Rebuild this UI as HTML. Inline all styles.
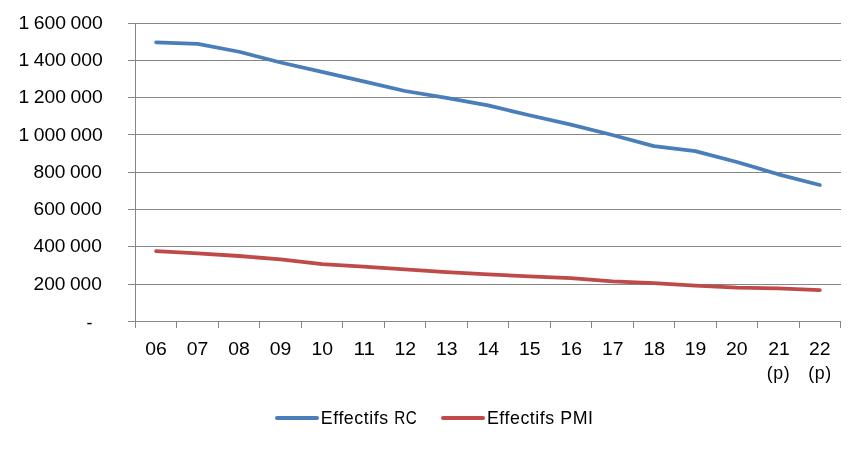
<!DOCTYPE html>
<html lang="fr"><head><meta charset="utf-8"><title>Effectifs RC / PMI</title>
<style>
html,body{margin:0;padding:0;background:#fff;}
body{width:863px;height:449px;overflow:hidden;}
svg{display:block;}
text{font-family:"Liberation Sans",sans-serif;font-size:17.8px;fill:#000;}
.y{text-anchor:end;word-spacing:-0.8px;}
.x{text-anchor:middle;}
.p{text-anchor:middle;letter-spacing:0.6px;}
.l{letter-spacing:0.55px;}
</style></head><body>
<svg width="863" height="449" viewBox="0 0 863 449">
<rect width="863" height="449" fill="#fff"/>

<g fill="#868686" shape-rendering="crispEdges">
<rect x="128" y="23" width="713" height="1"/>
<rect x="128" y="60" width="713" height="1"/>
<rect x="128" y="97" width="713" height="1"/>
<rect x="128" y="134" width="713" height="1"/>
<rect x="128" y="172" width="713" height="1"/>
<rect x="128" y="209" width="713" height="1"/>
<rect x="128" y="246" width="713" height="1"/>
<rect x="128" y="284" width="713" height="1"/>
<rect x="128" y="321" width="713" height="1"/>
<rect x="135" y="23" width="1" height="305"/>
<rect x="176" y="321" width="1" height="7"/>
<rect x="218" y="321" width="1" height="7"/>
<rect x="259" y="321" width="1" height="7"/>
<rect x="301" y="321" width="1" height="7"/>
<rect x="342" y="321" width="1" height="7"/>
<rect x="384" y="321" width="1" height="7"/>
<rect x="425" y="321" width="1" height="7"/>
<rect x="467" y="321" width="1" height="7"/>
<rect x="508" y="321" width="1" height="7"/>
<rect x="550" y="321" width="1" height="7"/>
<rect x="591" y="321" width="1" height="7"/>
<rect x="633" y="321" width="1" height="7"/>
<rect x="674" y="321" width="1" height="7"/>
<rect x="716" y="321" width="1" height="7"/>
<rect x="757" y="321" width="1" height="7"/>
<rect x="799" y="321" width="1" height="7"/>
<rect x="840" y="321" width="1" height="7"/>
</g>
<polyline points="156.1,42.30 197.6,43.90 239.1,51.75 280.6,62.50 322.0,71.80 363.5,81.40 405.0,91.00 446.5,97.90 488.0,105.45 529.4,115.25 570.9,124.60 612.4,135.00 653.9,146.10 695.3,151.10 736.8,162.00 778.3,174.30 819.8,185.00" fill="none" stroke="#4A7EBB" stroke-width="3.8" stroke-linecap="round" stroke-linejoin="round"/>
<polyline points="156.1,251.10 197.6,253.45 239.1,256.00 280.6,259.40 322.0,264.15 363.5,266.65 405.0,269.30 446.5,272.10 488.0,274.30 529.4,276.40 570.9,278.10 612.4,281.40 653.9,283.20 695.3,285.60 736.8,287.55 778.3,288.45 819.8,290.10" fill="none" stroke="#BE4B48" stroke-width="3.8" stroke-linecap="round" stroke-linejoin="round"/>
<text class="y" x="102.9" y="28.8" textLength="84.4" lengthAdjust="spacingAndGlyphs">1 600 000</text>
<text class="y" x="102.9" y="66.1" textLength="84.4" lengthAdjust="spacingAndGlyphs">1 400 000</text>
<text class="y" x="102.9" y="103.3" textLength="84.4" lengthAdjust="spacingAndGlyphs">1 200 000</text>
<text class="y" x="102.9" y="140.6" textLength="84.4" lengthAdjust="spacingAndGlyphs">1 000 000</text>
<text class="y" x="101.9" y="177.9" textLength="68.3" lengthAdjust="spacingAndGlyphs">800 000</text>
<text class="y" x="101.9" y="215.2" textLength="68.3" lengthAdjust="spacingAndGlyphs">600 000</text>
<text class="y" x="101.9" y="252.4" textLength="68.3" lengthAdjust="spacingAndGlyphs">400 000</text>
<text class="y" x="101.9" y="289.7" textLength="68.3" lengthAdjust="spacingAndGlyphs">200 000</text>
<text x="86.5" y="328.5">-</text>
<text class="x" x="156.1" y="354.7" textLength="21.6" lengthAdjust="spacingAndGlyphs">06</text>
<text class="x" x="197.6" y="354.7" textLength="21.6" lengthAdjust="spacingAndGlyphs">07</text>
<text class="x" x="239.1" y="354.7" textLength="21.6" lengthAdjust="spacingAndGlyphs">08</text>
<text class="x" x="280.6" y="354.7" textLength="21.6" lengthAdjust="spacingAndGlyphs">09</text>
<text class="x" x="322.3" y="354.7" textLength="21.6" lengthAdjust="spacingAndGlyphs">10</text>
<text class="x" x="364.2" y="354.7" textLength="21.6" lengthAdjust="spacingAndGlyphs">11</text>
<text class="x" x="405.3" y="354.7" textLength="21.6" lengthAdjust="spacingAndGlyphs">12</text>
<text class="x" x="446.8" y="354.7" textLength="21.6" lengthAdjust="spacingAndGlyphs">13</text>
<text class="x" x="488.3" y="354.7" textLength="21.6" lengthAdjust="spacingAndGlyphs">14</text>
<text class="x" x="529.7" y="354.7" textLength="21.6" lengthAdjust="spacingAndGlyphs">15</text>
<text class="x" x="571.2" y="354.7" textLength="21.6" lengthAdjust="spacingAndGlyphs">16</text>
<text class="x" x="612.7" y="354.7" textLength="21.6" lengthAdjust="spacingAndGlyphs">17</text>
<text class="x" x="654.2" y="354.7" textLength="21.6" lengthAdjust="spacingAndGlyphs">18</text>
<text class="x" x="695.6" y="354.7" textLength="21.6" lengthAdjust="spacingAndGlyphs">19</text>
<text class="x" x="736.8" y="354.7" textLength="21.6" lengthAdjust="spacingAndGlyphs">20</text>
<text class="x" x="779.0" y="354.7" textLength="21.6" lengthAdjust="spacingAndGlyphs">21</text>
<text class="x" x="819.8" y="354.7" textLength="21.6" lengthAdjust="spacingAndGlyphs">22</text>
<text class="p" x="778.6" y="379.3">(p)</text>
<text class="p" x="820.1" y="379.3">(p)</text>
<line x1="277" y1="418" x2="317" y2="418" stroke="#4A7EBB" stroke-width="4" stroke-linecap="round"/>
<text class="l" x="320.8" y="424">Effectifs <tspan textLength="23" lengthAdjust="spacingAndGlyphs">RC</tspan></text>
<line x1="443" y1="418" x2="483" y2="418" stroke="#BE4B48" stroke-width="4" stroke-linecap="round"/>
<text class="l" x="486.9" y="424">Effectifs PMI</text>
</svg></body></html>
